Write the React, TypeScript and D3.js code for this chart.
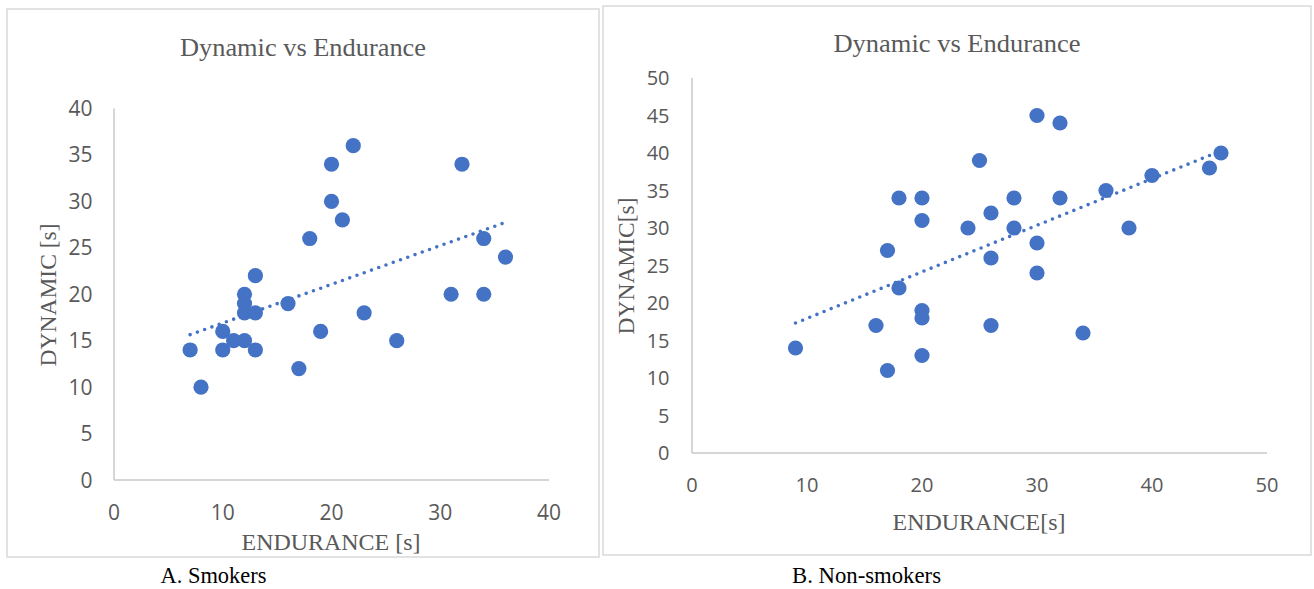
import * as d3 from "d3";

// smokers (panel A)
const smokersEndurance = [7, 8, 10, 10, 11, 12, 12, 12, 12, 13, 13, 13, 16, 17, 18, 19, 20, 20, 21, 22, 23, 26, 31, 32, 34, 34, 36];
const smokersDynamic = [14, 10, 16, 14, 15, 15, 20, 19, 18, 18, 22, 14, 19, 12, 26, 16, 34, 30, 28, 36, 18, 15, 20, 34, 26, 20, 24];
const smokersXTicks = [0, 10, 20, 30, 40];
const smokersYTicks = [0, 5, 10, 15, 20, 25, 30, 35, 40];

// non-smokers (panel B)
const nonSmokersEndurance = [9, 16, 17, 17, 18, 18, 20, 20, 20, 20, 20, 24, 25, 26, 26, 26, 28, 28, 30, 30, 30, 32, 32, 34, 36, 38, 40, 45, 46];
const nonSmokersDynamic = [14, 17, 11, 27, 34, 22, 34, 31, 19, 18, 13, 30, 39, 32, 26, 17, 34, 30, 45, 28, 24, 44, 34, 16, 35, 30, 37, 38, 40];
const nonSmokersXTicks = [0, 10, 20, 30, 40, 50];
const nonSmokersYTicks = [0, 5, 10, 15, 20, 25, 30, 35, 40, 45, 50];

const BLUE = "#4472C4";
const GRAY_TEXT = "#595959";
const SERIF = "'Liberation Serif', 'Times New Roman', serif";
const SANS = "'Open Sans', 'Liberation Sans', sans-serif";

// least squares fit, like excel's linear trendline
function fitLine(xs: number[], ys: number[]) {
  const mx = d3.mean(xs)!;
  const my = d3.mean(ys)!;
  let sxy = 0;
  let sxx = 0;
  xs.forEach((x, i) => {
    sxy += (x - mx) * (ys[i] - my);
    sxx += (x - mx) * (x - mx);
  });
  const slope = sxy / sxx;
  const intercept = my - slope * mx;
  return (x: number) => intercept + slope * x;
}

type PanelProps = {
  xs: number[];
  ys: number[];
  xTicks: number[];
  yTicks: number[];
  frame: [number, number, number, number];
  plot: { left: number; right: number; top: number; bottom: number };
  tickSize: number;
  yLabelX: number;
  xLabelY: number;
  title: { x: number; y: number; len: number };
  yTitle: { text: string; x: number; y: number; len: number };
  xTitle: { text: string; x: number; y: number; len: number };
  caption: { text: string; x: number; y: number; len: number };
};

function Panel(p: PanelProps) {
  const x = d3
    .scaleLinear()
    .domain([0, d3.max(p.xTicks)!])
    .range([p.plot.left, p.plot.right]);
  const y = d3
    .scaleLinear()
    .domain([0, d3.max(p.yTicks)!])
    .range([p.plot.bottom, p.plot.top]);

  const trend = fitLine(p.xs, p.ys);
  const ext = d3.extent(p.xs) as [number, number];
  const trendPath = d3
    .line<number>()
    .x((d) => x(d))
    .y((d) => y(trend(d)))(ext);

  const [fx, fy, fw, fh] = p.frame;

  return (
    <g>
      <rect x={fx} y={fy} width={fw} height={fh} fill="white" stroke="#D9D9D9" strokeWidth={1.5} />
      <text
        x={p.title.x}
        y={p.title.y}
        textAnchor="middle"
        fontFamily={SERIF}
        fontSize={26}
        fill={GRAY_TEXT}
        textLength={p.title.len}
        lengthAdjust="spacingAndGlyphs"
      >
        Dynamic vs Endurance
      </text>

      {/* axes */}
      <line x1={x(0)} x2={x(0)} y1={y.range()[1]} y2={y(0)} stroke="#C8C8C8" strokeWidth={1.5} />
      <line x1={x(0)} x2={x.range()[1]} y1={y(0)} y2={y(0)} stroke="#C8C8C8" strokeWidth={1.5} />

      {p.yTicks.map((t) => (
        <text
          key={"y" + t}
          x={p.yLabelX}
          y={y(t)}
          dy="0.36em"
          textAnchor="end"
          fontFamily={SANS}
          fontSize={p.tickSize}
          fill={GRAY_TEXT}
        >
          {t}
        </text>
      ))}
      {p.xTicks.map((t) => (
        <text
          key={"x" + t}
          x={x(t)}
          y={p.xLabelY}
          dy="0.36em"
          textAnchor="middle"
          fontFamily={SANS}
          fontSize={p.tickSize}
          fill={GRAY_TEXT}
        >
          {t}
        </text>
      ))}

      <text
        transform={`translate(${p.yTitle.x},${p.yTitle.y}) rotate(-90)`}
        textAnchor="middle"
        fontFamily={SERIF}
        fontSize={24}
        fill={GRAY_TEXT}
        textLength={p.yTitle.len}
        lengthAdjust="spacingAndGlyphs"
      >
        {p.yTitle.text}
      </text>
      <text
        x={p.xTitle.x}
        y={p.xTitle.y}
        textAnchor="middle"
        fontFamily={SERIF}
        fontSize={23}
        fill={GRAY_TEXT}
        textLength={p.xTitle.len}
        lengthAdjust="spacingAndGlyphs"
      >
        {p.xTitle.text}
      </text>

      {p.xs.map((d, i) => (
        <circle key={i} cx={x(d)} cy={y(p.ys[i])} r={7.6} fill={BLUE} />
      ))}

      <path
        d={trendPath ?? ""}
        fill="none"
        stroke={BLUE}
        strokeWidth={3.6}
        strokeLinecap="round"
        strokeDasharray="0 7.7"
      />

      <text
        x={p.caption.x}
        y={p.caption.y}
        fontFamily={SERIF}
        fontSize={23}
        fill="#000"
        textLength={p.caption.len}
        lengthAdjust="spacingAndGlyphs"
      >
        {p.caption.text}
      </text>
    </g>
  );
}

export default function App() {
  return (
    <svg
      width={1314}
      height={589}
      style={{ position: "absolute", left: 0, top: 0, background: "white" }}
    >
      <Panel
        xs={smokersEndurance}
        ys={smokersDynamic}
        xTicks={smokersXTicks}
        yTicks={smokersYTicks}
        frame={[7, 9, 592, 548]}
        plot={{ left: 114, right: 549, top: 108.5, bottom: 480 }}
        tickSize={21}
        yLabelX={92.5}
        xLabelY={512}
        title={{ x: 303, y: 55.5, len: 246 }}
        yTitle={{ text: "DYNAMIC [s]", x: 55.5, y: 295, len: 143 }}
        xTitle={{ text: "ENDURANCE [s]", x: 331, y: 549.5, len: 179 }}
        caption={{ text: "A. Smokers", x: 160.5, y: 583, len: 106 }}
      />
      <Panel
        xs={nonSmokersEndurance}
        ys={nonSmokersDynamic}
        xTicks={nonSmokersXTicks}
        yTicks={nonSmokersYTicks}
        frame={[603, 6, 708, 549]}
        plot={{ left: 692, right: 1267, top: 78, bottom: 453 }}
        tickSize={20}
        yLabelX={669.5}
        xLabelY={484.5}
        title={{ x: 957, y: 51.5, len: 247 }}
        yTitle={{ text: "DYNAMIC[s]", x: 634, y: 266, len: 137 }}
        xTitle={{ text: "ENDURANCE[s]", x: 979, y: 530, len: 173 }}
        caption={{ text: "B. Non-smokers", x: 792, y: 583, len: 149 }}
      />
    </svg>
  );
}
